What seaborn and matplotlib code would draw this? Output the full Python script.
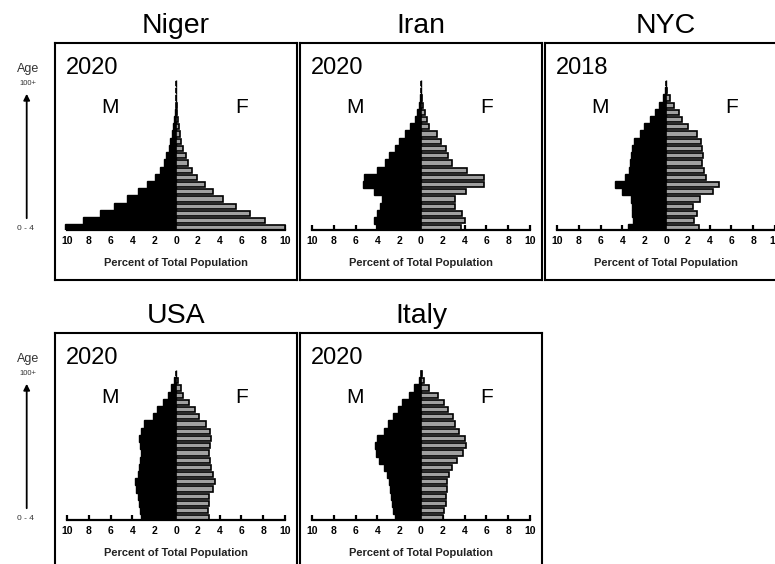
import matplotlib

matplotlib.use("Agg")
import matplotlib.pyplot as plt
import seaborn as sns

sns.set_theme(style="white")
plt.rcParams["font.family"] = ["Liberation Sans", "DejaVu Sans"]
plt.rcParams["text.color"] = "black"

W, H = 775, 564

# age groups, bottom (0-4) to top (100+)
ages = ["0-4", "5-9", "10-14", "15-19", "20-24", "25-29", "30-34", "35-39",
        "40-44", "45-49", "50-54", "55-59", "60-64", "65-69", "70-74",
        "75-79", "80-84", "85-89", "90-94", "95-99", "100+"]

# percent of total population per age group
niger_m = [10.2, 8.55, 7.0, 5.7, 4.5, 3.5, 2.7, 1.95, 1.46, 1.13, 0.88, 0.68,
           0.52, 0.38, 0.26, 0.15, 0.08, 0.04, 0.02, 0.01, 0.01]
niger_f = [10.0, 8.2, 6.8, 5.5, 4.35, 3.4, 2.65, 1.9, 1.45, 1.12, 0.88, 0.66,
           0.5, 0.38, 0.26, 0.16, 0.09, 0.05, 0.02, 0.01, 0.01]

iran_m = [4.05, 4.3, 4.0, 3.8, 3.6, 4.3, 5.3, 5.2, 4.0, 3.3, 2.95, 2.35,
          2.05, 1.45, 0.98, 0.55, 0.38, 0.2, 0.08, 0.03, 0.01]
iran_f = [3.7, 4.07, 3.8, 3.1, 3.1, 4.15, 5.75, 5.75, 4.2, 2.85, 2.5, 2.3,
          1.8, 1.45, 0.75, 0.55, 0.35, 0.18, 0.08, 0.03, 0.01]

nyc_m = [3.45, 3.0, 3.15, 3.15, 3.25, 4.05, 4.65, 3.75, 3.35, 3.3, 3.25, 3.15,
         2.9, 2.4, 2.05, 1.45, 1.0, 0.6, 0.3, 0.1, 0.02]
nyc_f = [3.05, 2.6, 2.8, 2.5, 3.1, 4.3, 4.9, 3.7, 3.45, 3.3, 3.4, 3.3,
         3.2, 2.8, 2.0, 1.45, 1.2, 0.75, 0.4, 0.12, 0.03]

usa_m = [3.2, 3.3, 3.35, 3.5, 3.65, 3.75, 3.5, 3.4, 3.3, 3.2, 3.3, 3.35,
         3.2, 2.9, 2.15, 1.7, 1.2, 0.75, 0.45, 0.15, 0.03]
usa_f = [3.0, 2.9, 3.0, 3.05, 3.4, 3.6, 3.4, 3.2, 3.1, 3.05, 3.1, 3.2,
         3.1, 2.75, 2.15, 1.7, 1.15, 0.67, 0.45, 0.15, 0.03]

italy_m = [2.35, 2.55, 2.7, 2.75, 2.85, 2.9, 3.1, 3.4, 3.85, 4.15, 4.2, 4.0,
           3.4, 3.0, 2.6, 2.15, 1.7, 1.1, 0.6, 0.2, 0.04]
italy_f = [2.0, 2.15, 2.3, 2.3, 2.35, 2.35, 2.55, 2.85, 3.3, 3.85, 4.15, 4.0,
           3.5, 3.15, 2.9, 2.45, 2.15, 1.55, 0.75, 0.3, 0.08]

names = ["Niger", "Iran", "NYC", "USA", "Italy"]
years = ["2020", "2020", "2018", "2020", "2020"]
males = [niger_m, iran_m, nyc_m, usa_m, italy_m]
females = [niger_f, iran_f, nyc_f, usa_f, italy_f]
grid = [(0, 0), (0, 1), (0, 2), (1, 0), (1, 1)]

tick_vals = list(range(-10, 11, 2))
tick_labels = [str(abs(v)) for v in tick_vals]

GRAY = "#a0a0a0"
PX = 10.9  # pixels per percent


def fbox(x0, y0, x1, y1):
    return [x0 / W, 1 - y1 / H, (x1 - x0) / W, (y1 - y0) / H]


def fpt(x, y):
    return (x / W, 1 - y / H)


fig = plt.figure(figsize=(W / 100, H / 100), dpi=100)

for name, year, m, f, (r, c) in zip(names, years, males, females, grid):
    dx, dy = 245 * c, 290 * r

    frame = fig.add_axes(fbox(55 + dx, 43 + dy, 297 + dx, 280 + dy))
    frame.set_xticks([])
    frame.set_yticks([])
    frame.set_facecolor("white")
    for sp in frame.spines.values():
        sp.set_color("black")
        sp.set_linewidth(1.5)

    cx = 176 + dx
    ax = fig.add_axes(fbox(cx - 10.7 * PX, 60 + dy, cx + 10.7 * PX, 230 + dy))
    ax.set_facecolor("none")
    sns.barplot(x=[-v for v in m], y=ages, order=ages[::-1], orient="h",
                color="black", saturation=1, edgecolor="black", linewidth=1.0,
                width=1.0, errorbar=None, ax=ax)
    sns.barplot(x=f, y=ages, order=ages[::-1], orient="h",
                color=GRAY, saturation=1, edgecolor="black", linewidth=1.2,
                width=0.72, errorbar=None, ax=ax)

    ax.set_xlim(-10.7, 10.7)
    ax.set_ylim(20.28, -3.25)
    ax.set_yticks([])
    ax.set_ylabel("")
    for side in ["top", "left", "right"]:
        ax.spines[side].set_visible(False)
    ax.spines["bottom"].set_color("black")
    ax.spines["bottom"].set_linewidth(1.6)
    ax.spines["bottom"].set_bounds(-10, 10)
    ax.set_xticks(tick_vals)
    ax.set_xticklabels(tick_labels, fontweight="bold")
    ax.tick_params(axis="x", direction="in", length=3.5, width=1.6, pad=4.5,
                   labelsize=7.5, color="black", labelcolor="black", bottom=True)
    ax.set_xlabel("Percent of Total Population", fontsize=8, fontweight="bold",
                  labelpad=8.5, color="#222222")

    ax.text(-10.1, -1.32, year, ha="left", va="baseline", fontsize=17)
    ax.text(-6.1, 4.09, "M", ha="center", va="baseline", fontsize=15)
    ax.text(6.0, 4.09, "F", ha="center", va="baseline", fontsize=15)

    fig.text(*fpt(cx, 33 + dy), name, ha="center", va="baseline", fontsize=20.5)

# age guide on the left of each row
for dy in [0, 290]:
    fig.text(*fpt(28, 72 + dy), "Age", ha="center", va="baseline",
             fontsize=9, color="#333333")
    fig.text(*fpt(27.5, 83.5 + dy), "100+", ha="center", va="center",
             fontsize=5.5, color="#333333")
    fig.text(*fpt(25, 228.5 + dy), "0 - 4", ha="center", va="center",
             fontsize=6, color="#333333")
    fig.add_artist(matplotlib.patches.FancyArrowPatch(
        fpt(26.7, 221 + dy), fpt(26.7, 91 + dy), transform=fig.transFigure,
        arrowstyle="-|>", mutation_scale=9, lw=1.3, color="black"))

fig.savefig("out.png", dpi=100)
